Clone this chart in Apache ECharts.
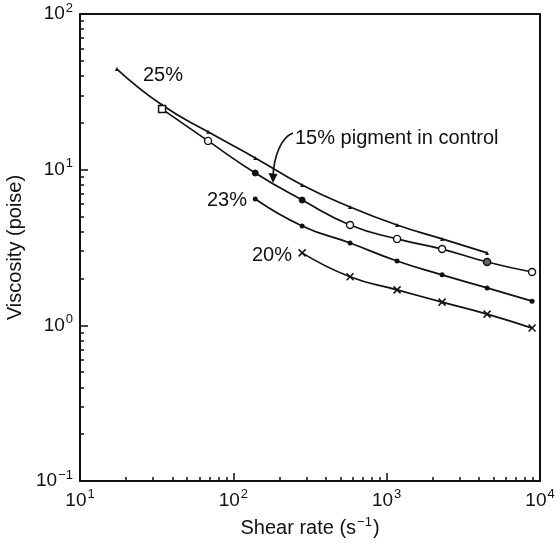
<!DOCTYPE html>
<html>
<head>
<meta charset="utf-8">
<script src="https://cdn.jsdelivr.net/npm/echarts@6/dist/echarts.min.js"></script>
<style>
  html, body { margin: 0; padding: 0; background: #fff; }
  #chart { width: 560px; height: 545px; }
</style>
</head>
<body>
<div id="chart"></div>
<script>
// Shear rate (s^-1) at each measurement
const rate25 = [17.4, 34.3, 68.4, 139, 281, 577, 1169, 2298, 4518];
const visc25 = [44.3, 26.0, 17.5, 11.9, 7.97, 5.76, 4.41, 3.59, 2.92];

const ratePigment = [34.3, 68.4, 139, 281, 577, 1169, 2298, 4518, 8880];
const viscPigment = [24.5, 15.3, 9.52, 6.38, 4.41, 3.59, 3.09, 2.55, 2.20];
const pigmentMarkers = ['square', 'open', 'filled', 'filled', 'open', 'open', 'open', 'dotted', 'open'];

const rate23 = [139, 281, 577, 1169, 2298, 4518, 8880];
const visc23 = [6.48, 4.35, 3.38, 2.59, 2.11, 1.74, 1.43];

const rate20 = [281, 577, 1169, 2298, 4518, 8880];
const visc20 = [2.92, 2.05, 1.69, 1.41, 1.18, 0.96];

const xDecades = [10, 100, 1000, 10000];
const yDecades = [0.1, 1, 10, 100];

const INK = '#111';
const FONT = 'Liberation Sans, Arial, Helvetica, sans-serif';

function minorTicks(decades) {
  const out = [];
  for (let i = 0; i < decades.length - 1; i++) {
    for (let k = 2; k <= 9; k++) out.push(+(decades[i] * k).toPrecision(6));
  }
  return out;
}

function pairs(xs, ys) {
  return xs.map((x, i) => [x, ys[i]]);
}

function powLabel(v) {
  const e = Math.round(Math.log10(v));
  return '{b|10}{s|' + (e < 0 ? '\u2212' + (-e) : e) + '}';
}

const labelRich = {
  b: { fontSize: 19, fontFamily: FONT, color: INK },
  s: { fontSize: 13, fontFamily: FONT, color: INK, padding: [0, 0, 12, 1] }
};

const xCross = 'path://M0,0L10,10M10,0L0,10';

const pigmentData = pairs(ratePigment, viscPigment).map((p, i) => {
  const kind = pigmentMarkers[i];
  if (kind === 'square') {
    return { value: p, symbol: 'rect', symbolSize: 7, itemStyle: { color: '#fff', borderColor: INK, borderWidth: 1.5 } };
  }
  if (kind === 'open') {
    return { value: p, symbol: 'circle', symbolSize: 7, itemStyle: { color: '#fff', borderColor: INK, borderWidth: 1.4 } };
  }
  if (kind === 'dotted') {
    return { value: p, symbol: 'circle', symbolSize: 7, itemStyle: { color: '#666', borderColor: INK, borderWidth: 1.5 } };
  }
  return { value: p, symbol: 'circle', symbolSize: 6, itemStyle: { color: INK, borderColor: INK, borderWidth: 1 } };
});

const chart = echarts.init(document.getElementById('chart'), null, { renderer: 'canvas' });

const frameLine = { show: true, lineStyle: { color: INK, width: 2 } };
const curveStyle = { color: INK, width: 1.7 };

chart.setOption({
  animation: false,
  backgroundColor: '#fff',
  grid: { left: 80, right: 20, top: 14, bottom: 64, containLabel: false, outerBoundsMode: 'none' },
  xAxis: [
    {
      type: 'log', logBase: 10, min: 10, max: 10000, position: 'bottom',
      axisLine: frameLine,
      axisTick: { show: true, inside: true, length: 8, customValues: xDecades, lineStyle: { color: INK, width: 1.5 } },
      axisLabel: { customValues: xDecades, formatter: powLabel, rich: labelRich, margin: 7 },
      splitLine: { show: false },
      name: '{n|Shear rate (s}{s|\u22121}{n|)}',
      nameLocation: 'middle', nameGap: 35,
      nameTextStyle: {
        rich: {
          n: { fontSize: 20, fontFamily: FONT, color: INK },
          s: { fontSize: 13, fontFamily: FONT, color: INK, padding: [0, 1, 12, 1] }
        }
      }
    },
    {
      type: 'log', logBase: 10, min: 10, max: 10000, position: 'bottom',
      axisLine: { show: false },
      axisTick: { show: true, inside: true, length: 4, customValues: minorTicks(xDecades), lineStyle: { color: INK, width: 1.5 } },
      axisLabel: { show: false },
      splitLine: { show: false }
    },
    {
      type: 'log', logBase: 10, min: 10, max: 10000, position: 'top',
      axisLine: frameLine, axisTick: { show: false }, axisLabel: { show: false }, splitLine: { show: false }
    }
  ],
  yAxis: [
    {
      type: 'log', logBase: 10, min: 0.1, max: 100, position: 'left',
      axisLine: frameLine,
      axisTick: { show: true, inside: true, length: 8, customValues: yDecades, lineStyle: { color: INK, width: 1.5 } },
      axisLabel: { customValues: yDecades, formatter: powLabel, rich: labelRich, margin: 7 },
      splitLine: { show: false },
      name: 'Viscosity (poise)',
      nameLocation: 'middle', nameGap: 54, nameRotate: 90,
      nameTextStyle: { fontSize: 20, fontFamily: FONT, color: INK }
    },
    {
      type: 'log', logBase: 10, min: 0.1, max: 100, position: 'left',
      axisLine: { show: false },
      axisTick: { show: true, inside: true, length: 4, customValues: minorTicks(yDecades), lineStyle: { color: INK, width: 1.5 } },
      axisLabel: { show: false },
      splitLine: { show: false }
    },
    {
      type: 'log', logBase: 10, min: 0.1, max: 100, position: 'right',
      axisLine: frameLine, axisTick: { show: false }, axisLabel: { show: false }, splitLine: { show: false }
    }
  ],
  series: [
    {
      name: '25%', type: 'line', smooth: 0.5,
      data: pairs(rate25, visc25),
      symbol: 'triangle', symbolSize: 4,
      itemStyle: { color: INK },
      lineStyle: curveStyle
    },
    {
      name: '15% pigment in control', type: 'line', smooth: 0.5,
      data: pigmentData,
      lineStyle: curveStyle,
      itemStyle: { color: INK },
      z: 3
    },
    {
      name: '23%', type: 'line', smooth: 0.5,
      data: pairs(rate23, visc23),
      symbol: 'circle', symbolSize: 5,
      itemStyle: { color: INK },
      lineStyle: curveStyle
    },
    {
      name: '20%', type: 'line', smooth: 0.5,
      data: pairs(rate20, visc20),
      symbol: xCross, symbolSize: 7,
      itemStyle: { color: INK, borderColor: INK, borderWidth: 1.5 },
      lineStyle: curveStyle
    }
  ],
  graphic: [
    { type: 'text', style: { x: 143, y: 75, text: '25%', font: '20px ' + FONT, fill: INK, textAlign: 'left', textVerticalAlign: 'middle' } },
    { type: 'text', style: { x: 207, y: 200, text: '23%', font: '20px ' + FONT, fill: INK, textAlign: 'left', textVerticalAlign: 'middle' } },
    { type: 'text', style: { x: 252, y: 255, text: '20%', font: '20px ' + FONT, fill: INK, textAlign: 'left', textVerticalAlign: 'middle' } },
    { type: 'text', style: { x: 295, y: 138, text: '15% pigment in control', font: '20px ' + FONT, fill: INK, textAlign: 'left', textVerticalAlign: 'middle' } },
    // curved pointer from the label down to its curve
    { type: 'bezierCurve', shape: { x1: 293, y1: 133, cpx1: 280, cpy1: 138, cpx2: 274, cpy2: 158, x2: 273, y2: 176 },
      style: { stroke: INK, lineWidth: 1.6, fill: null } },
    { type: 'polygon', shape: { points: [[273, 183], [268.5, 173], [277.5, 174]] }, style: { fill: INK } }
  ]
});
</script>
</body>
</html>
